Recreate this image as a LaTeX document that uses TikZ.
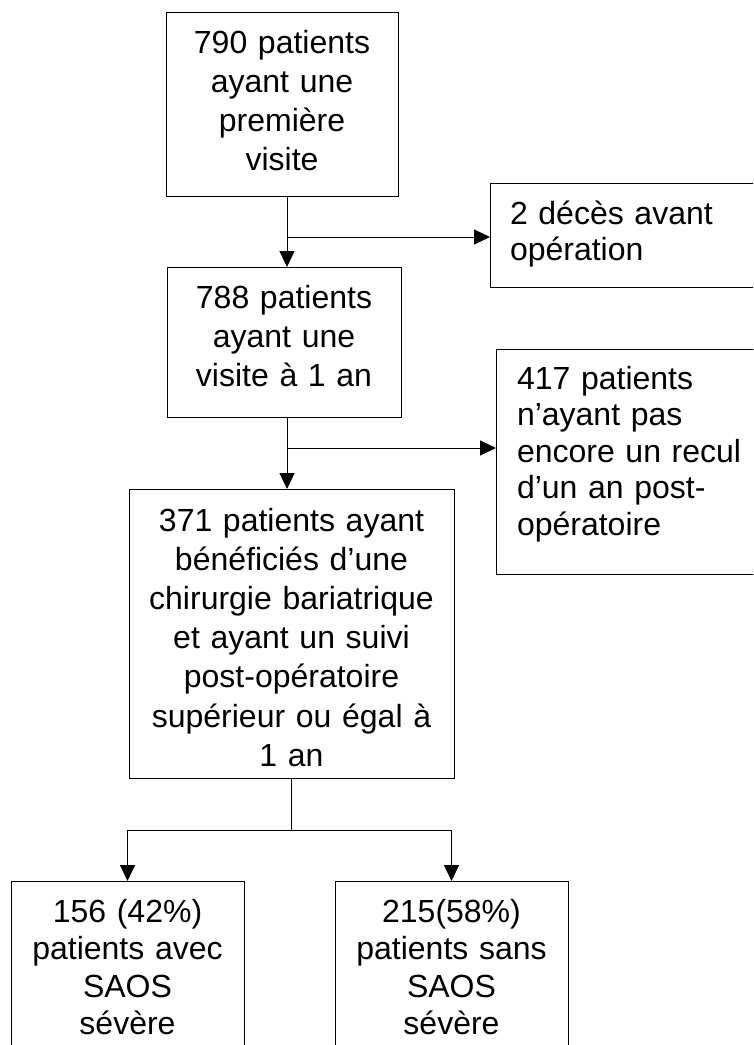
\documentclass[tikz,border=0pt]{standalone}
\usepackage{fontspec}
\setmainfont{Liberation Sans}
\usetikzlibrary{arrows.meta}
\begin{document}
\begin{tikzpicture}[x=1pt,y=-1pt,
  box/.style={draw,line width=1pt,inner sep=0pt,outer sep=0pt,anchor=north west,
    font=\fontsize{32}{39}\selectfont,align=center},
  sidebox/.style={box,align=left,inner xsep=20pt,text width=240pt,
    font=\fontsize{32}{36.5}\selectfont},
  link/.style={line width=1pt},
  arr/.style={link,-{Triangle[length=16pt,width=15pt]}}]
 \useasboundingbox[fill=white] (0,0) rectangle (753,1045);
 \clip (0,0) rectangle (753,1045);
 % boxes
 \node[box,text width=232pt,text height=41pt,text depth=143pt] (visit1) at (166,12)
   {790 patients\\ayant une\\première\\visite};
 \node[sidebox,text height=41pt,text depth=63pt] (deces) at (490,183)
   {2 décès avant\\opération};
 \node[box,text width=234pt,text height=41pt,text depth=109pt] (visit2) at (167,267)
   {788 patients\\ayant une\\visite à 1 an};
 \node[sidebox,inner xsep=21pt,text height=40pt,text depth=185pt] (norecul) at (496,349)
   {417 patients\\n’ayant pas\\encore un recul\\d’un an post-\\opératoire};
 \node[box,text width=325pt,text height=42pt,text depth=247pt,
   font=\fontsize{32}{39.2}\selectfont] (chir) at (129,489)
   {371 patients ayant\\bénéficiés d’une\\chirurgie bariatrique\\et ayant un suivi\\post-opératoire\\supérieur ou égal à\\1 an};
 \node[box,text width=233pt,text height=41pt,text depth=160pt,
   font=\fontsize{32}{37.5}\selectfont] (avec) at (11,881)
   {156 (42\%)\\patients avec\\SAOS\\sévère};
 \node[box,text width=233pt,text height=41pt,text depth=160pt,
   font=\fontsize{32}{37.5}\selectfont] (sans) at (335,881)
   {215(58\%)\\patients sans\\SAOS\\sévère};
 % connectors
 \coordinate (j1) at (287,237);
 \coordinate (j2) at (287,448);
 \coordinate (j3) at (291,830);
 \draw[link] (visit1.south -| j1) -- (j1);
 \draw[arr] (j1) -- (visit2.north -| j1);
 \draw[arr] (j1) -- (j1 -| deces.west);
 \draw[link] (visit2.south -| j2) -- (j2);
 \draw[arr] (j2) -- (chir.north -| j2);
 \draw[arr] (j2) -- (j2 -| norecul.west);
 \draw[link] (chir.south -| j3) -- (j3);
 \draw[arr] (j3) -| (avec.north);
 \draw[arr] (j3) -| (sans.north);
\end{tikzpicture}
\end{document}
